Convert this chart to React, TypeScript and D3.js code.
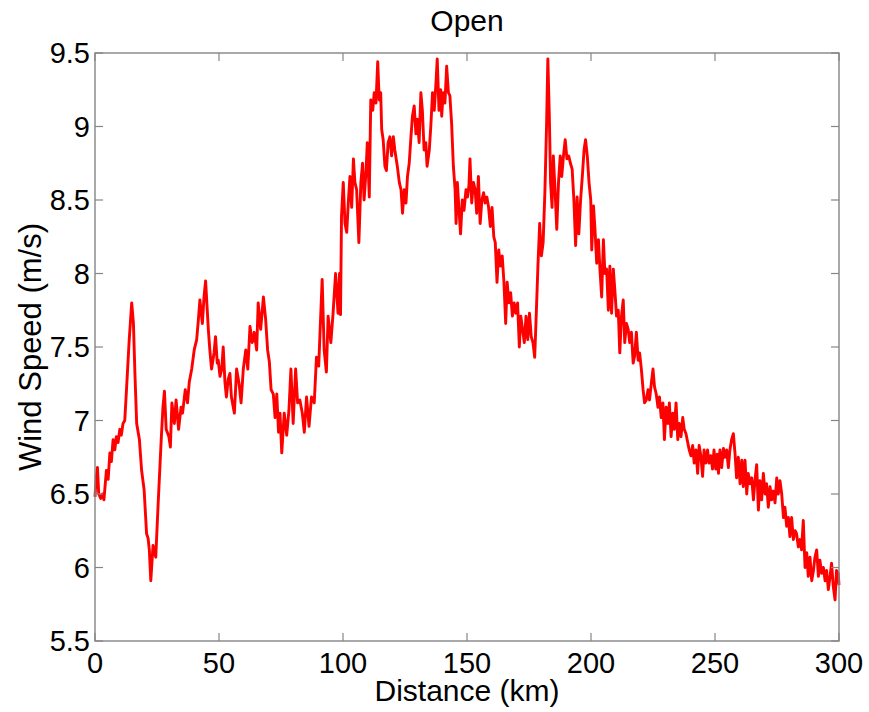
import React from 'react';
import * as d3 from 'd3';

const distanceKm = [
  0, 0.5, 1, 1.5, 2.3, 3, 3.6, 4.6, 5.3, 6, 6.6, 7.3, 8, 8.6, 9.3, 10, 10.6, 11.3, 12, 12.7, 13.8, 14.8, 15.5, 16.1, 16.8, 17.9, 18.8, 19.8, 20.8, 21.4, 21.9, 22.5, 23.4, 24.5, 25.4, 26.7, 27.4, 28, 28.7, 29.8, 30.4, 31, 32, 32.7, 33.7, 34.7, 35.3, 36.4, 37.3, 38, 39, 40, 41, 41.7, 42.3, 43.3, 44, 44.6, 45.7, 46.3, 47, 48, 48.6, 49.3,
  49.7, 50.4, 51.1, 51.7, 52.4, 53, 53.7, 54.4, 55, 56.2, 57.1, 58.1, 58.9, 59.8, 60.8, 61.6, 62.5, 63.4, 64.2, 65.2, 65.8, 66.8, 67.9, 68.8, 69.6, 70.3, 71, 71.9, 72.6, 73.3, 74, 74.6, 75.3, 76.3, 77.3, 78.2, 79, 79.9, 80.9, 81.7, 82.6, 83.6, 84.4, 85.3, 86.3, 87.3, 88.4, 89.3, 90.2, 91.6, 92.4, 93.3, 94, 95.1, 96, 97, 98, 98.6, 99, 99.4,
  100.1, 100.8, 101.5, 102.2, 102.8, 103.5, 104.2, 104.8, 105.5, 106.4, 107.2, 107.9, 108.5, 109.3, 109.8, 110.6, 111.2, 112, 112.6, 113.3, 114, 114.6, 115.2, 115.6, 116.2, 116.9, 117.5, 118.2, 118.9, 119.6, 120.3, 120.9, 121.9, 122.7, 123.4, 124, 124.7, 125.4, 126, 126.7, 127.4, 128, 128.7, 129.4, 130, 130.7, 131.4, 132, 132.7, 133.4, 133.9, 134.8, 135.4, 136.1, 136.8, 137.5, 138, 138.7, 139.4, 139.8, 140.4, 141.1, 141.8, 142.5, 143.1, 143.8, 144.5, 145.2, 145.6, 146.1, 146.8, 147.4, 148.1, 148.8, 149.6,
  150.2, 150.8, 151.2, 151.9, 152.6, 153.3, 153.9, 154.6, 155.3, 156, 156.7, 157.3, 158, 158.7, 159.4, 160.1, 160.8, 161.4, 162.1, 162.8, 163.5, 164.2, 164.9, 165.6, 166.2, 166.9, 167.6, 168.3, 169, 169.7, 170.4, 171.1, 171.7, 172.4, 173.1, 173.8, 174.5, 175.2, 175.9, 176.6, 177.3, 177.9, 178.6, 179.3, 180, 180.7, 181.4, 182.1, 182.6, 183.2, 183.7, 184.3, 184.8, 185.5, 186.2, 186.9, 187.6, 188.2, 188.9, 189.6, 190.3, 191, 191.7, 192.4, 193.1, 193.8, 194.4, 195.1, 195.8, 196.5, 197.2, 197.8, 198.5, 199.2, 199.9,
  200.3, 201, 201.6, 202.3, 203, 203.6, 204.3, 205, 205.6, 206.3, 207, 207.6, 208.3, 209, 209.6, 210.3, 211, 211.6, 212.3, 213, 213.6, 214.3, 215, 215.6, 216.3, 217, 217.6, 218.3, 219, 219.6, 220.3, 221, 221.6, 222.3, 223, 223.6, 224.3, 225, 225.6, 226.3, 227, 227.6, 228.3, 229, 229.6, 230.3, 231, 231.6, 232.3, 233, 233.6, 234.3, 235, 235.6, 236.3, 237, 237.6, 238.3, 239, 239.6, 240.3, 241, 241.6, 242.3, 243, 243.6, 244.3, 245, 245.6, 246.3, 247, 247.6, 248.3, 249, 249.6,
  250.3, 250.9, 251.4, 252, 252.7, 253.4, 254, 254.7, 255.4, 256, 256.7, 257.4, 258.1, 258.7, 259.4, 260.1, 260.8, 261.4, 262.1, 262.8, 263.4, 264.1, 264.8, 265.5, 266.1, 266.8, 267.5, 268.1, 268.8, 269.5, 270.2, 270.8, 271.5, 272.2, 272.8, 273.5, 274.2, 274.9, 275.5, 276.2, 276.9, 277.6, 278.2, 278.9, 279.6, 280.2, 280.9, 281.6, 282.3, 282.9, 283.6, 284.3, 284.9, 285.6, 286.3, 287, 287.6, 288.3, 289, 289.7, 290.3, 291, 291.7, 292.3, 293, 293.7, 294.4, 295, 295.7, 296.4, 297, 297.7, 298.4, 299, 299.7, 300,
];

const windSpeed = [
  6.48, 6.62, 6.68, 6.5, 6.47, 6.5, 6.46, 6.66, 6.6, 6.78, 6.72, 6.87, 6.8, 6.89, 6.85, 6.94, 6.9, 6.98, 7.0, 7.21, 7.55, 7.8, 7.66, 7.32, 6.98, 6.87, 6.66, 6.53, 6.23, 6.2, 6.12, 5.91, 6.15, 6.07, 6.41, 6.87, 7.09, 7.2, 6.94, 6.89, 6.82, 7.12, 6.98, 7.14, 6.94, 7.09, 7.05, 7.21, 7.12, 7.26, 7.35, 7.48, 7.55, 7.69, 7.82, 7.66, 7.85, 7.95, 7.62, 7.48, 7.35, 7.46, 7.57, 7.39,
  7.41, 7.3, 7.35, 7.5, 7.26, 7.16, 7.28, 7.32, 7.16, 7.05, 7.35, 7.25, 7.12, 7.35, 7.48, 7.35, 7.64, 7.53, 7.6, 7.48, 7.8, 7.62, 7.84, 7.69, 7.48, 7.4, 7.21, 7.18, 7.02, 7.18, 6.92, 7.05, 6.78, 7.05, 6.9, 7.07, 7.35, 6.98, 7.35, 7.12, 7.14, 7.05, 6.92, 7.16, 6.96, 7.16, 7.12, 7.43, 7.37, 7.96, 7.48, 7.33, 7.71, 7.53, 7.73, 8.0, 7.73, 8.0, 7.72, 8.39,
  8.62, 8.34, 8.28, 8.5, 8.66, 8.45, 8.78, 8.62, 8.57, 8.21, 8.62, 8.75, 8.5, 8.7, 8.89, 8.52, 9.18, 9.11, 9.23, 9.16, 9.44, 9.18, 9.23, 8.98, 8.91, 8.73, 8.7, 8.89, 8.93, 8.8, 8.93, 8.84, 8.73, 8.62, 8.57, 8.41, 8.57, 8.48, 8.66, 8.75, 8.93, 9.07, 9.14, 8.95, 9.05, 8.89, 9.23, 9.11, 8.84, 8.89, 8.73, 8.84, 9.0, 9.23, 9.11, 9.3, 9.46, 9.11, 9.25, 9.07, 9.23, 9.16, 9.41, 9.23, 9.21, 9.02, 8.73, 8.57, 8.34, 8.62, 8.43, 8.27, 8.5, 8.43, 8.57,
  8.52, 8.6, 8.78, 8.48, 8.62, 8.57, 8.41, 8.66, 8.34, 8.5, 8.55, 8.48, 8.52, 8.45, 8.32, 8.45, 8.25, 8.21, 7.94, 8.16, 8.05, 8.12, 7.94, 7.66, 7.94, 7.8, 7.87, 7.71, 7.8, 7.73, 7.8, 7.5, 7.71, 7.62, 7.53, 7.71, 7.55, 7.73, 7.57, 7.53, 7.43, 7.71, 8.05, 8.34, 8.12, 8.21, 8.55, 9.02, 9.46, 9.07, 8.62, 8.45, 8.8, 8.57, 8.3, 8.62, 8.8, 8.66, 8.8, 8.91, 8.78, 8.8, 8.75, 8.71, 8.5, 8.19, 8.52, 8.27, 8.5, 8.66, 8.84, 8.91, 8.8, 8.62, 8.5,
  8.16, 8.46, 8.3, 8.07, 8.23, 8.03, 7.84, 8.23, 8.0, 8.03, 7.75, 8.05, 7.73, 8.03, 7.89, 7.71, 7.75, 7.46, 7.71, 7.82, 7.53, 7.66, 7.62, 7.53, 7.6, 7.39, 7.44, 7.6, 7.41, 7.46, 7.35, 7.21, 7.12, 7.14, 7.21, 7.14, 7.25, 7.35, 7.23, 7.18, 7.09, 7.16, 7.02, 7.12, 6.87, 7.09, 6.98, 7.12, 6.89, 7.05, 6.94, 7.12, 6.87, 6.98, 6.89, 7.02, 6.94, 6.91, 6.85, 6.8, 6.76, 6.83, 6.71, 6.8, 6.64, 6.83, 6.76, 6.62, 6.8, 6.71, 6.8, 6.71, 6.76, 6.67, 6.8,
  6.67, 6.77, 6.64, 6.8, 6.68, 6.81, 6.75, 6.8, 6.68, 6.8, 6.87, 6.91, 6.77, 6.61, 6.75, 6.57, 6.73, 6.55, 6.73, 6.5, 6.64, 6.57, 6.61, 6.46, 6.59, 6.7, 6.39, 6.59, 6.46, 6.64, 6.5, 6.57, 6.41, 6.55, 6.46, 6.52, 6.44, 6.61, 6.5, 6.59, 6.5, 6.34, 6.41, 6.28, 6.34, 6.21, 6.34, 6.19, 6.25, 6.23, 6.14, 6.19, 6.12, 6.32, 6.0, 6.1, 5.94, 6.07, 5.91, 5.98, 6.07, 6.12, 5.94, 6.05, 5.96, 6.0, 5.91, 5.98, 5.85, 5.94, 6.03, 5.87, 5.78, 5.98, 5.96, 5.88,
];

const xTicks = [0, 50, 100, 150, 200, 250, 300];
const yTicks = [5.5, 6, 6.5, 7, 7.5, 8, 8.5, 9, 9.5];
const titleText = 'Open';
const xLabelText = 'Distance (km)';
const yLabelText = 'Wind Speed (m/s)';

const FONT = '"Liberation Sans", Arial, Helvetica, sans-serif';

export default function App() {
  const W = 869;
  const H = 712;
  const left = 95, right = 839, top = 53, bottom = 641;
  const x = d3.scaleLinear().domain([0, 300]).range([left, right]);
  const y = d3.scaleLinear().domain([5.5, 9.5]).range([bottom, top]);
  const n = Math.min(distanceKm.length, windSpeed.length);
  const pts: [number, number][] = [];
  for (let i = 0; i < n; i++) pts.push([distanceKm[i], windSpeed[i]]);
  const line = d3.line<[number, number]>().x(d => x(d[0])).y(d => y(d[1]));
  const axisColor = '#858585';
  const tickLen = 8;

  return (
    <svg width={W} height={H} style={{ position: 'absolute', left: 0, top: 0, background: '#fff' }}
      fontFamily={FONT}>
      <rect x={0} y={0} width={W} height={H} fill="#fff" />
      <path d={line(pts) || ''} fill="none" stroke="#ff0000" strokeWidth={2.9} strokeLinejoin="round" />
      <rect x={left} y={top} width={right - left} height={bottom - top} fill="none" stroke={axisColor} strokeWidth={1.4} />
      {xTicks.map(t => (
        <g key={'x' + t}>
          <line x1={x(t)} x2={x(t)} y1={bottom} y2={bottom - tickLen} stroke={axisColor} strokeWidth={1.2} />
          <line x1={x(t)} x2={x(t)} y1={top} y2={top + tickLen} stroke={axisColor} strokeWidth={1.2} />
          <text x={x(t)} y={673} textAnchor="middle" fontSize={29} fill="#000">{String(t)}</text>
        </g>
      ))}
      {yTicks.map(t => (
        <g key={'y' + t}>
          <line x1={left} x2={left + tickLen} y1={y(t)} y2={y(t)} stroke={axisColor} strokeWidth={1.2} />
          <line x1={right} x2={right - tickLen} y1={y(t)} y2={y(t)} stroke={axisColor} strokeWidth={1.2} />
          <text x={90} y={y(t)} dy="0.36em" textAnchor="end" fontSize={29} fill="#000">{String(t)}</text>
        </g>
      ))}
      <text x={(left + right) / 2} y={31} textAnchor="middle" fontSize={30} fill="#000">{titleText}</text>
      <text x={(left + right) / 2} y={701} textAnchor="middle" fontSize={30} fill="#000">{xLabelText}</text>
      <text transform={`translate(41,${(top + bottom) / 2}) rotate(-90)`} textAnchor="middle" fontSize={31} fill="#000">{yLabelText}</text>
    </svg>
  );
}
